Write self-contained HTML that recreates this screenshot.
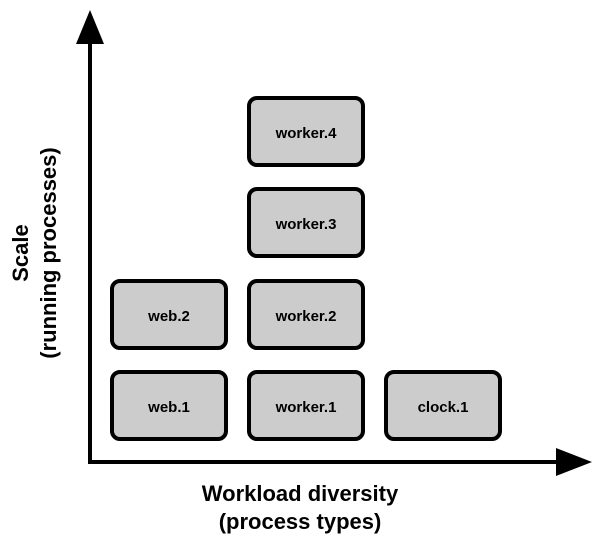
<!DOCTYPE html>
<html><head><style>
body{margin:0;width:600px;height:545px;background:#fff;overflow:hidden;position:relative;font-family:"Liberation Sans",sans-serif;font-weight:bold}
.b{position:absolute;width:110px;height:63px;border:4px solid #000;border-radius:10px;background:#ccc;box-sizing:content-box;display:flex;align-items:center;justify-content:center;font-size:15px;padding-top:4px;height:59px}
.t{position:absolute;text-align:center;font-size:22px;line-height:28px}
</style></head><body>
<svg width="600" height="545" style="position:absolute;left:0;top:0">
<line x1="90" y1="40" x2="90" y2="462" stroke="#000" stroke-width="4"/>
<line x1="88" y1="462" x2="560" y2="462" stroke="#000" stroke-width="4"/>
<polygon points="90,10 76,44 104,44" fill="#000"/>
<polygon points="592,462 556,448 556,476" fill="#000"/>
</svg>
<div class="b" style="left:110px;top:370px">web.1</div>
<div class="b" style="left:110px;top:279px">web.2</div>
<div class="b" style="left:247px;top:370px">worker.1</div>
<div class="b" style="left:247px;top:279px">worker.2</div>
<div class="b" style="left:247px;top:187px">worker.3</div>
<div class="b" style="left:247px;top:96px">worker.4</div>
<div class="b" style="left:384px;top:370px">clock.1</div>
<div class="t" style="left:140px;top:480px;width:320px">Workload diversity<br>(process types)</div>
<div class="t" style="left:-125px;top:225px;width:320px;transform:rotate(-90deg)">Scale<br>(running processes)</div>
</body></html>
